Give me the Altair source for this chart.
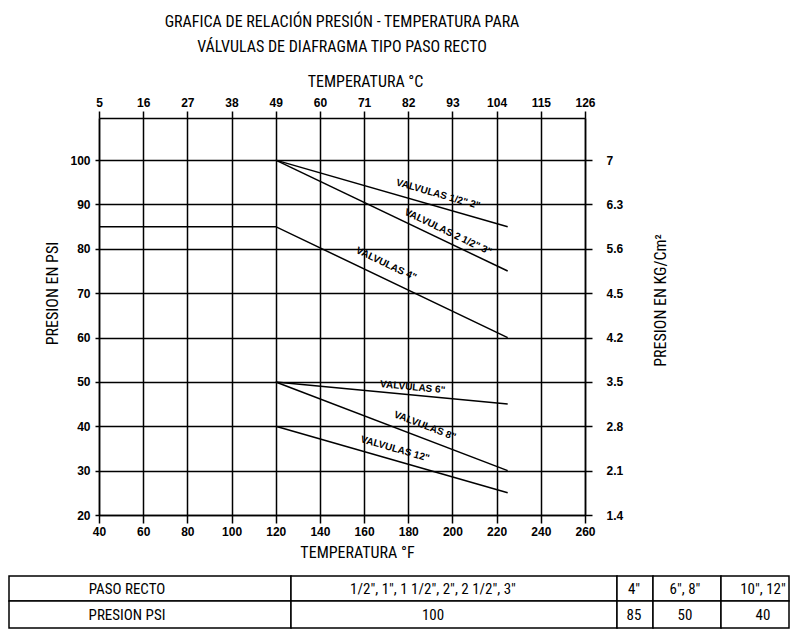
import math
import altair as alt
import pandas as pd

# ---------------- data ----------------
F_TICKS = [40, 60, 80, 100, 120, 140, 160, 180, 200, 220, 240, 260]
C_TICKS = [5, 16, 27, 38, 49, 60, 71, 82, 93, 104, 115, 126]
PSI_TICKS = [20, 30, 40, 50, 60, 70, 80, 90, 100]
KG_LABELS = ["1.4", "2.1", "2.8", "3.5", "4.2", "4.5", "5.6", "6.3", "7"]

SERIES = ['1/2"-2"', '2 1/2"-3"', '4"', '6"', '8"', '12"']
SERIES_F = [[120, 225], [120, 225], [40, 120, 225], [120, 225], [120, 225], [120, 225]]
SERIES_PSI = [[100, 85], [100, 75], [85, 85, 60], [50, 45], [50, 30], [40, 25]]

LABEL_TEXT = ['VALVULAS 1/2"    2"', 'VALVULAS 2 1/2"    3"', 'VALVULAS 4"',
              'VALVULAS 6"', 'VALVULAS 8"', 'VALVULAS 12"']
LABEL_F = [193.5, 198, 170, 182, 187.5, 174]
LABEL_PSI = [92.3, 83.8, 76.6, 48.8, 40.1, 34.9]

TABLE_ROW1 = ["PASO  RECTO", '1/2",  1",  1  1/2",  2",  2  1/2",  3"', '4"', '6",  8"', '10",  12"']
TABLE_ROW2 = ["PRESION  PSI", "100", "85", "50", "40"]

# ---------------- layout ----------------
W, H = 486, 397
F_DOM = [40, 260]
PSI_DOM = [20, 109.5]
FONT_T = "Liberation Sans Narrow, Roboto Condensed, DejaVu Sans Condensed, Liberation Sans, sans-serif"
FONT_L = "Liberation Sans, Arial, sans-serif"
TABLE_X_EDGES = [0, 282, 608, 644, 712, 780]
TABLE_TEXT_X = [118, 424, 625, 676, 754]
TABLE_Y_EDGES = [0, 25, 52]

px_f = W / (F_DOM[1] - F_DOM[0])
px_p = H / (PSI_DOM[1] - PSI_DOM[0])

rows = []
for s, fs, ps in zip(SERIES, SERIES_F, SERIES_PSI):
    for i, (f, p) in enumerate(zip(fs, ps)):
        rows.append({"serie": s, "i": i, "F": f, "psi": p})
lines_df = pd.DataFrame(rows)

lab_rows = []
for t, f, p, fs, ps in zip(LABEL_TEXT, LABEL_F, LABEL_PSI, SERIES_F, SERIES_PSI):
    dx = (fs[-1] - fs[-2]) * px_f
    dy = (ps[-2] - ps[-1]) * px_p
    lab_rows.append({"t": t, "F": f, "psi": p, "ang": math.degrees(math.atan2(dy, dx))})
lab_df = pd.DataFrame(lab_rows)

xs = alt.Scale(domain=F_DOM, nice=False, zero=False)
ys = alt.Scale(domain=PSI_DOM, nice=False, zero=False)

ax_common = dict(domainColor="black", domainWidth=1.5, tickColor="black", tickWidth=1.5,
                 labelFont=FONT_L, labelFontSize=12, labelFontWeight="bold", labelColor="black",
                 titleFont=FONT_T, titleFontSize=16, titleFontWeight="normal", titleColor="black",
                 titleBaseline="middle", labelFlush=False, labelOverlap=False)

x_axis = alt.Axis(values=F_TICKS, title="TEMPERATURA  °F", orient="bottom", grid=True,
                  gridColor="black", gridWidth=1.5, gridOpacity=1, tickSize=8, labelPadding=3,
                  titleX=258, titleY=37, **ax_common)
y_axis = alt.Axis(values=PSI_TICKS, title="PRESION  EN  PSI", orient="left", grid=True,
                  gridColor="black", gridWidth=1.5, gridOpacity=1, tickSize=4, labelPadding=5,
                  titleX=-47, titleY=175, titleAngle=270, **ax_common)

lines = alt.Chart(lines_df).mark_line(color="black", strokeWidth=1.5).encode(
    x=alt.X("F:Q", scale=xs, axis=x_axis),
    y=alt.Y("psi:Q", scale=ys, axis=y_axis),
    detail="serie:N",
    order="i:Q",
)

labels = alt.Chart(lab_df).mark_text(font=FONT_L, fontSize=10, fontWeight="bold", color="black").encode(
    x=alt.X("F:Q", scale=xs),
    y=alt.Y("psi:Q", scale=ys),
    text="t:N",
    angle=alt.Angle("ang:Q", scale=None),
)

main_layer = alt.layer(lines, labels)

top_axis = alt.Chart(pd.DataFrame({"C": C_TICKS})).mark_point(opacity=0).encode(
    x=alt.X("C:Q", scale=alt.Scale(domain=[C_TICKS[0], C_TICKS[-1]], nice=False, zero=False),
            axis=alt.Axis(values=C_TICKS, orient="top", title="TEMPERATURA  °C", grid=False,
                          tickSize=7, labelPadding=2, format="d",
                          titleX=266, titleY=-37, **ax_common)),
)

kg_expr = "[" + ",".join("'%s'" % k for k in KG_LABELS) + "][round((datum.value-%d)/10)]" % PSI_TICKS[0]
right_axis = alt.Chart(pd.DataFrame({"psi": PSI_TICKS})).mark_point(opacity=0).encode(
    y=alt.Y("psi:Q", scale=ys,
            axis=alt.Axis(values=PSI_TICKS, orient="right", title="PRESION  EN  KG/Cm²", grid=False,
                          tickSize=7, labelPadding=14, labelExpr=kg_expr,
                          titleX=75, titleY=182, titleAngle=270, **ax_common)),
)

main = alt.layer(main_layer, top_axis, right_axis).resolve_scale(
    x="independent", y="independent"
).properties(
    width=W, height=H,
    title=alt.TitleParams(
        text=["GRAFICA DE RELACIÓN PRESIÓN - TEMPERATURA PARA",
              "VÁLVULAS DE DIAFRAGMA TIPO PASO RECTO"],
        font=FONT_T, fontSize=16, fontWeight="normal", color="black",
        anchor="middle", lineHeight=25, offset=18,
    ),
)

# ---------------- table ----------------
cells, texts = [], []
for r, row in enumerate([TABLE_ROW1, TABLE_ROW2]):
    for c, t in enumerate(row):
        cells.append({"x": TABLE_X_EDGES[c], "x2": TABLE_X_EDGES[c + 1],
                      "y": TABLE_Y_EDGES[r], "y2": TABLE_Y_EDGES[r + 1]})
        texts.append({"x": TABLE_TEXT_X[c], "y": (TABLE_Y_EDGES[r] + TABLE_Y_EDGES[r + 1]) / 2, "t": t})

tx = alt.Scale(domain=[0, 782], range=[-90, 692], nice=False, zero=False)
ty = alt.Scale(domain=[0, 52], range=[0, 52], nice=False, zero=False)

tcells = alt.Chart(pd.DataFrame(cells)).mark_rect(fill="white", stroke="black", strokeWidth=1.5).encode(
    x=alt.X("x:Q", scale=tx, axis=None), x2="x2:Q",
    y=alt.Y("y:Q", scale=ty, axis=None), y2="y2:Q",
)
ttext = alt.Chart(pd.DataFrame(texts)).mark_text(font=FONT_T, fontSize=15, color="black").encode(
    x=alt.X("x:Q", scale=tx, axis=None),
    y=alt.Y("y:Q", scale=ty, axis=None),
    text="t:N",
)
table = alt.layer(tcells, ttext).properties(width=W, height=52)

chart = alt.vconcat(main, table, spacing=15).properties(
    padding={"top": 6, "left": 0, "right": 0, "bottom": 0}
).configure_view(stroke=None)

chart.save("out.html", embed_options={"renderer": "svg", "actions": False})
